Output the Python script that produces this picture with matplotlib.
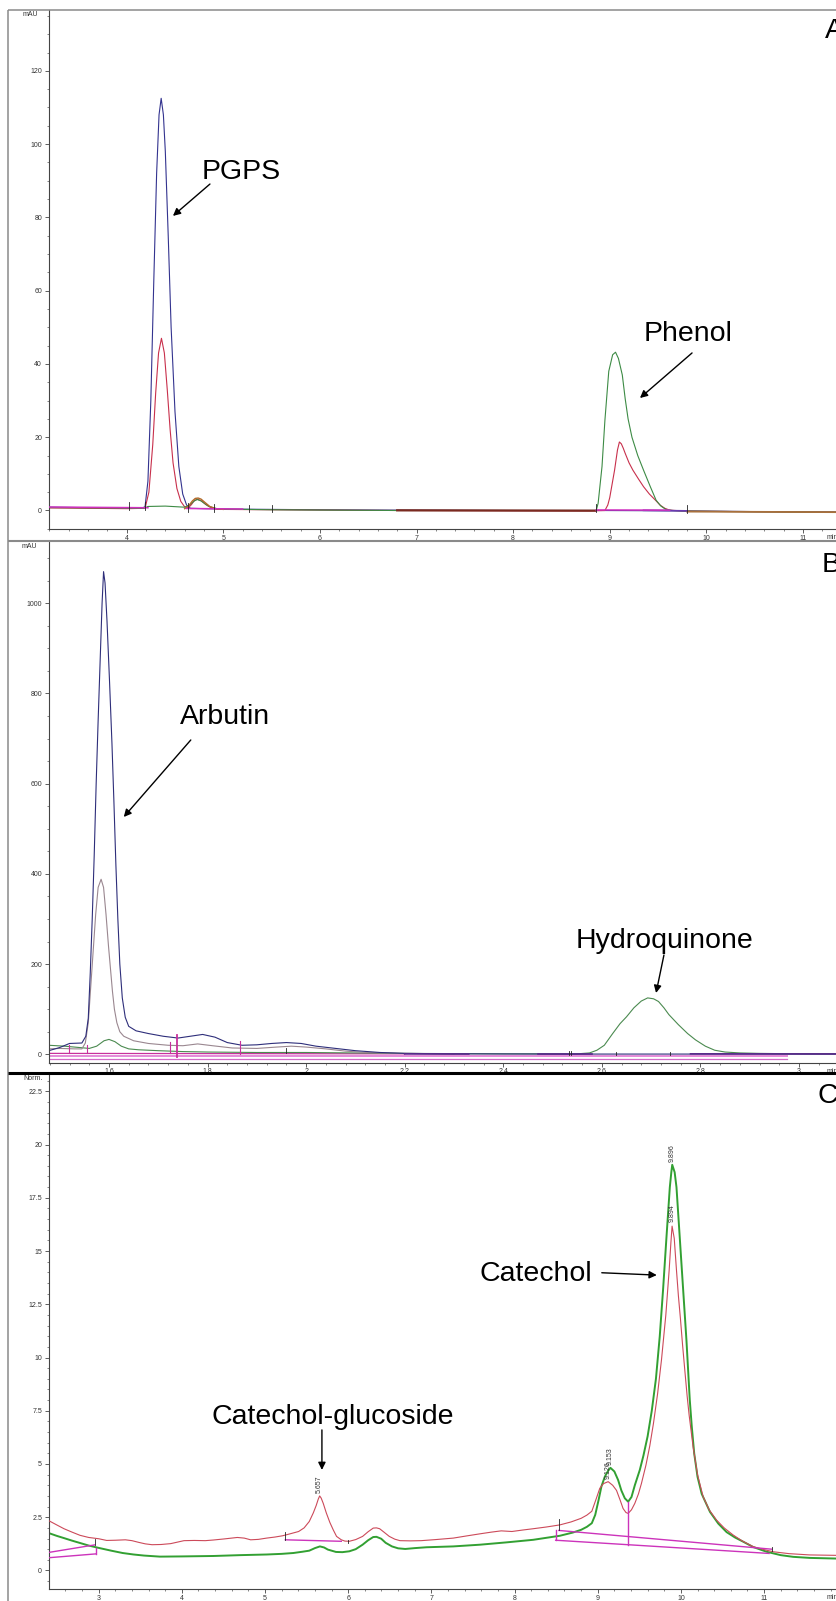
import matplotlib
matplotlib.use("Agg")
import matplotlib.pyplot as plt
from matplotlib.ticker import MultipleLocator, FuncFormatter, FixedLocator
from matplotlib.lines import Line2D

plt.rcParams['font.family'] = ['Liberation Sans', 'DejaVu Sans']

# ------------------------------------------------------------------ DATA
# ---- Panel A (mAU vs min)
A_blue = [(3.196, 0.9), (3.5, 0.8), (3.8, 0.7), (4.0, 0.6), (4.15, 0.6), (4.19, 1.0),
          (4.22, 8), (4.25, 30), (4.28, 62), (4.31, 92), (4.335, 108), (4.357, 112.5),
          (4.38, 108), (4.40, 98), (4.43, 75), (4.46, 50), (4.50, 27), (4.54, 12),
          (4.58, 4.5), (4.62, 1.5), (4.66, 0.6), (4.8, 0.5), (5.0, 0.4), (5.5, 0.3),
          (6.0, 0.2), (6.8, 0.1), (8.0, 0.0), (8.85, 0.0), (9.8, -0.1), (10.5, -0.3),
          (11.342, -0.4)]
A_red = [(3.196, 0.7), (3.6, 0.6), (4.0, 0.5), (4.19, 0.6), (4.23, 5), (4.27, 18),
         (4.30, 32), (4.33, 43), (4.36, 47), (4.39, 43), (4.42, 33), (4.45, 22),
         (4.48, 13), (4.52, 6), (4.56, 2.5), (4.60, 1.0), (4.64, 0.8), (4.67, 1.6),
         (4.70, 2.7), (4.73, 3.1), (4.77, 2.7), (4.82, 1.6), (4.88, 0.7), (4.95, 0.3),
         (5.5, 0.2), (6.8, 0.0), (8.8, -0.1), (8.95, 0.0), (8.98, 1.5), (9.00, 3.5),
         (9.02, 6.5), (9.05, 11), (9.08, 16.5), (9.10, 18.7), (9.12, 18.2), (9.14, 17.0),
         (9.16, 15.6), (9.20, 13.0), (9.24, 11.0), (9.30, 8.5), (9.35, 6.5), (9.41, 4.5),
         (9.47, 2.9), (9.52, 1.5), (9.57, 0.6), (9.62, 0.1), (9.8, -0.2), (11.342, -0.5)]
A_green = [(3.196, 0.8), (3.8, 0.7), (4.18, 0.6), (4.22, 1.1), (4.4, 1.2), (4.6, 0.9),
           (4.65, 1.5), (4.70, 2.6), (4.73, 3.0), (4.77, 2.6), (4.85, 1.1), (4.95, 0.4),
           (5.5, 0.2), (6.8, 0.0), (8.86, 0.0), (8.88, 2), (8.92, 12), (8.95, 24.6),
           (8.99, 38), (9.03, 42.5), (9.06, 43.2), (9.09, 41.5), (9.13, 37), (9.16, 30.5),
           (9.19, 25), (9.23, 20), (9.29, 15), (9.35, 11), (9.42, 6.5), (9.48, 2.8),
           (9.53, 1.2), (9.58, 0.3), (9.65, 0.0), (9.8, -0.2), (11.342, -0.5)]
A_brown = [(4.60, 0.5), (4.64, 1.2), (4.68, 2.6), (4.71, 3.3), (4.74, 3.4), (4.77, 3.1),
           (4.81, 2.2), (4.86, 1.1), (4.92, 0.5), (5.0, 0.3)]
A_base_dark = [(6.8, 0.05), (8.85, -0.05)]
A_base_tan = [(9.8, -0.3), (11.342, -0.45)]
A_base_violet = [(9.35, 0.05), (9.8, -0.1)]
A_mag_segments = [[(3.196, 0.95), (4.22, 0.75)], [(4.62, 0.55), (5.2, 0.4)],
                  [(8.86, 0.15), (9.62, 0.1)]]
A_event_ticks = [(4.02, 0.0, 2.2), (4.19, 0.0, 2.2), (4.63, -0.3, 2.0), (4.90, -0.3, 1.8),
                 (5.27, -0.5, 1.6), (5.50, -0.5, 1.4), (8.86, -0.5, 1.8), (9.80, -0.8, 1.4)]
A_xticks = [4, 5, 6, 7, 8, 9, 10, 11]
A_yticks = [0, 20, 40, 60, 80, 100, 120]

# ---- Panel B (mAU vs min)
B_blue = [(1.478, 8), (1.50, 15), (1.52, 24), (1.545, 25), (1.553, 40), (1.558, 80),
          (1.562, 180), (1.566, 300), (1.570, 440), (1.574, 600), (1.578, 740),
          (1.582, 870), (1.586, 1000), (1.589, 1070), (1.592, 1045), (1.596, 960),
          (1.601, 830), (1.606, 690), (1.610, 560), (1.614, 420), (1.618, 300),
          (1.622, 200), (1.627, 125), (1.633, 82), (1.640, 62), (1.655, 52), (1.68, 46),
          (1.71, 40), (1.74, 36), (1.765, 40), (1.79, 44), (1.815, 38), (1.84, 26),
          (1.87, 20), (1.90, 21), (1.93, 24), (1.96, 26), (1.99, 24), (2.02, 18),
          (2.06, 13), (2.10, 8), (2.15, 4), (2.20, 2), (2.3, 1), (2.5, 0.5), (2.7, 0.5),
          (2.9, 0.5), (3.075, 0.5)]
B_gray = [(1.478, 12), (1.50, 13), (1.53, 12), (1.545, 12), (1.552, 25), (1.558, 70),
          (1.563, 150), (1.568, 230), (1.573, 310), (1.578, 370), (1.584, 388),
          (1.589, 370), (1.594, 310), (1.599, 240), (1.603, 190), (1.607, 140),
          (1.611, 100), (1.616, 70), (1.622, 50), (1.63, 40), (1.65, 30), (1.68, 24),
          (1.72, 20), (1.75, 19), (1.78, 23), (1.81, 19), (1.85, 14), (1.90, 13),
          (1.94, 16), (1.97, 18), (2.00, 16), (2.04, 12), (2.08, 7), (2.12, 4),
          (2.2, 2), (2.3, 1)]
B_green = [(1.478, 20), (1.51, 18), (1.54, 15), (1.56, 13), (1.575, 18), (1.59, 30),
           (1.60, 33), (1.612, 28), (1.625, 18), (1.64, 12), (1.66, 10), (1.70, 8),
           (1.75, 6), (1.8, 5), (1.9, 4), (2.0, 4), (2.1, 3), (2.2, 2), (2.4, 1),
           (2.55, 1), (2.575, 3), (2.59, 9), (2.605, 20), (2.622, 46), (2.637, 68),
           (2.65, 83), (2.665, 103), (2.68, 118), (2.693, 125), (2.705, 123),
           (2.715, 117), (2.726, 103), (2.736, 88), (2.755, 66), (2.774, 46),
           (2.79, 32), (2.81, 18), (2.829, 9), (2.85, 5), (2.88, 3), (2.92, 2),
           (2.96, 1.5), (3.075, 1)]
B_mag_top = [(1.478, 2), (2.20, 1)]
B_pink_1 = [(1.478, -4), (2.975, -4)]
B_pink_2 = [(1.478, -10), (2.975, -10)]
B_purple_segments = [[(2.20, 0.8), (2.33, 0.6)], [(2.47, 0.5), (2.58, 0.5)],
                     [(2.78, 1.0), (3.075, 0.8)]]
B_mag_ticks = [(1.519, 2, 20), (1.555, 2, 20), (1.723, 2, 28), (1.866, 0, 30)]
B_mag_tick_tall = [(1.739, -5, 42)]
B_black_ticks = [(1.96, 3, 14), (2.534, -2, 8), (2.538, -2, 8), (2.628, -2, 6),
                 (2.738, -2, 6)]
B_xticks = [1.6, 1.8, 2.0, 2.2, 2.4, 2.6, 2.8, 3.0]
B_yticks = [0, 200, 400, 600, 800, 1000]

# ---- Panel C (Norm. vs min)
C_red = [(2.404, 2.33), (2.5, 2.13), (2.583, 1.96), (2.68, 1.8), (2.776, 1.65),
         (2.88, 1.55), (3.0, 1.49), (3.096, 1.41), (3.2, 1.42), (3.321, 1.44),
         (3.40, 1.40), (3.481, 1.32), (3.56, 1.25), (3.641, 1.21), (3.75, 1.22),
         (3.865, 1.26), (4.026, 1.40), (4.15, 1.41), (4.282, 1.40), (4.378, 1.43),
         (4.506, 1.48), (4.667, 1.55), (4.75, 1.52), (4.827, 1.44), (4.92, 1.46),
         (5.019, 1.52), (5.12, 1.57), (5.212, 1.63), (5.30, 1.72), (5.404, 1.83),
         (5.47, 2.0), (5.532, 2.3), (5.58, 2.7), (5.615, 3.05), (5.64, 3.35),
         (5.657, 3.5), (5.675, 3.4), (5.70, 3.15), (5.737, 2.7), (5.78, 2.25),
         (5.821, 1.9), (5.86, 1.6), (5.917, 1.44), (5.96, 1.38), (6.013, 1.37),
         (6.09, 1.45), (6.173, 1.60), (6.24, 1.82), (6.301, 1.99), (6.34, 2.0),
         (6.378, 1.96), (6.43, 1.8), (6.494, 1.60), (6.56, 1.47), (6.622, 1.40),
         (6.75, 1.39), (6.878, 1.40), (7.05, 1.45), (7.263, 1.52), (7.42, 1.62),
         (7.583, 1.72), (7.72, 1.80), (7.84, 1.86), (7.968, 1.83), (8.1, 1.90),
         (8.224, 1.96), (8.38, 2.04), (8.545, 2.14), (8.68, 2.28), (8.801, 2.45),
         (8.87, 2.6), (8.929, 2.78), (8.985, 3.4), (9.025, 3.86), (9.07, 4.08),
         (9.126, 4.17), (9.18, 4.0), (9.226, 3.76), (9.27, 3.3), (9.305, 2.91),
         (9.34, 2.72), (9.366, 2.68), (9.406, 2.85), (9.446, 3.15), (9.49, 3.6),
         (9.526, 4.09), (9.58, 4.95), (9.626, 5.85), (9.67, 6.9), (9.72, 8.3),
         (9.767, 9.9), (9.819, 12.0), (9.859, 14.1), (9.88, 15.4), (9.894, 16.17),
         (9.92, 15.6), (9.947, 14.1), (9.97, 12.9), (9.995, 11.8), (10.02, 10.6),
         (10.047, 9.41), (10.075, 8.2), (10.099, 7.3), (10.147, 5.8), (10.2, 4.5),
         (10.267, 3.47), (10.34, 2.85), (10.428, 2.37), (10.52, 2.0), (10.627, 1.67),
         (10.74, 1.38), (10.868, 1.12), (11.0, 0.98), (11.108, 0.88), (11.3, 0.79),
         (11.549, 0.73), (11.865, 0.71)]
C_green = [(2.404, 1.75), (2.5, 1.62), (2.583, 1.52), (2.68, 1.40), (2.776, 1.29),
           (2.88, 1.17), (3.0, 1.06), (3.15, 0.93), (3.288, 0.82), (3.42, 0.75),
           (3.545, 0.70), (3.737, 0.65), (4.0, 0.66), (4.378, 0.68), (4.7, 0.72),
           (5.019, 0.75), (5.2, 0.78), (5.34, 0.82), (5.45, 0.88), (5.532, 0.93),
           (5.60, 1.05), (5.66, 1.13), (5.71, 1.08), (5.756, 0.98), (5.853, 0.87),
           (5.93, 0.86), (6.013, 0.90), (6.09, 1.0), (6.173, 1.21), (6.24, 1.42),
           (6.301, 1.57), (6.34, 1.58), (6.397, 1.49), (6.45, 1.3), (6.526, 1.13),
           (6.6, 1.04), (6.686, 1.01), (6.80, 1.05), (6.942, 1.09), (7.263, 1.13),
           (7.583, 1.21), (7.904, 1.32), (8.224, 1.44), (8.545, 1.63), (8.70, 1.78),
           (8.801, 1.91), (8.87, 2.05), (8.929, 2.22), (8.97, 2.61), (9.01, 3.3),
           (9.045, 3.95), (9.085, 4.4), (9.125, 4.68), (9.153, 4.82), (9.20, 4.65),
           (9.245, 4.25), (9.285, 3.75), (9.326, 3.39), (9.366, 3.23), (9.406, 3.45),
           (9.446, 4.0), (9.506, 4.72), (9.55, 5.4), (9.60, 6.3), (9.65, 7.5),
           (9.70, 9.0), (9.746, 11.0), (9.786, 13.2), (9.827, 15.67), (9.867, 18.0),
           (9.885, 18.7), (9.896, 19.05), (9.925, 18.7), (9.947, 18.0), (9.967, 16.8),
           (9.987, 15.6), (10.007, 14.4), (10.027, 13.2), (10.047, 12.0),
           (10.067, 10.8), (10.087, 9.4), (10.107, 8.0), (10.13, 6.8), (10.16, 5.5),
           (10.2, 4.4), (10.25, 3.6), (10.35, 2.75), (10.45, 2.2), (10.55, 1.8),
           (10.65, 1.55), (10.75, 1.35), (10.87, 1.1), (11.03, 0.88), (11.2, 0.72),
           (11.35, 0.64), (11.55, 0.59), (11.865, 0.56)]
C_mag_segments = [[(2.404, 0.85), (2.95, 1.2)], [(2.404, 0.6), (2.97, 0.78)],
                  [(2.97, 0.78), (2.97, 1.05)], [(5.244, 1.44), (5.917, 1.37)],
                  [(8.532, 1.88), (11.09, 1.0)], [(8.494, 1.42), (11.06, 0.8)],
                  [(8.494, 1.42), (8.494, 1.88)], [(9.366, 1.2), (9.366, 3.23)]]
C_black_ticks = [(2.95, 1.2, 1.5), (5.244, 1.44, 1.8), (5.994, 1.28, 1.45),
                 (8.532, 1.88, 2.4), (11.09, 0.9, 1.1)]
C_peak_labels = ["5.657", "9.126", "9.153", "9.894", "9.896"]
C_peak_label_x = [5.657, 9.126, 9.153, 9.894, 9.896]
C_peak_label_v = [3.62, 4.30, 4.95, 16.35, 19.20]
C_xticks = [3, 4, 5, 6, 7, 8, 9, 10, 11]
C_yticks = [0, 2.5, 5, 7.5, 10, 12.5, 15, 17.5, 20, 22.5]

# ------------------------------------------------------------------ LAYOUT
W, H = 836, 1601
fig = plt.figure(figsize=(W / 100, H / 100), dpi=100)
fig.patch.set_facecolor('white')

LEFT = 49


def add_panel(top_px, bottom_px, xlim, ylim):
    ax = fig.add_axes([LEFT / W, 1 - bottom_px / H, (W - LEFT) / W,
                       (bottom_px - top_px) / H])
    ax.set_xlim(*xlim)
    ax.set_ylim(*ylim)
    for s in ('top', 'right'):
        ax.spines[s].set_visible(False)
    for s in ('left', 'bottom'):
        ax.spines[s].set_color('#444444')
        ax.spines[s].set_linewidth(0.8)
    ax.set_facecolor('none')
    ax.tick_params(which='major', direction='out', length=2.8, width=0.6,
                   color='#444444', labelsize=5, labelcolor='#333333')
    ax.tick_params(axis='x', which='major', pad=1.2)
    ax.tick_params(axis='y', which='major', pad=2.2)
    ax.tick_params(which='minor', direction='out', length=1.5, width=0.5,
                   color='#555555')
    ax.xaxis.set_major_formatter(FuncFormatter(lambda v, p: f"{v:g}"))
    ax.yaxis.set_major_formatter(FuncFormatter(lambda v, p: f"{v:g}"))
    return ax


def fig_line(x0, y0, x1, y1, color, lw):
    fig.add_artist(Line2D([x0 / W, x1 / W], [1 - y0 / H, 1 - y1 / H],
                          transform=fig.transFigure, color=color, lw=lw,
                          solid_capstyle='butt'))


def trace(ax, pts, color, lw=0.8, z=2):
    t, v = zip(*pts)
    ax.plot(t, v, color=color, lw=lw, zorder=z)


def vticks(ax, ticks, color, lw=0.7):
    for x, v0, v1 in ticks:
        ax.plot([x, x], [v0, v1], color=color, lw=lw, zorder=4)


def big(ax, x, v, s, ha='center'):
    ax.text(x, v, s, fontsize=20.5, ha=ha, va='baseline', color='black',
            zorder=6, clip_on=False)


def arrow(ax, x0, v0, x1, v1):
    ax.annotate('', xy=(x1, v1), xytext=(x0, v0),
                arrowprops=dict(arrowstyle='-|>', color='black', lw=1.0,
                                mutation_scale=11, shrinkA=0, shrinkB=0),
                zorder=6)


def min_label(ax, x):
    ax.annotate('min', xy=(x, 0), xycoords=('data', 'axes fraction'),
                xytext=(0, -6.2), textcoords='offset points', fontsize=5,
                ha='left', va='center', color='#333333', annotation_clip=False)


# ---- frame
fig_line(8, 10, 8, H, '#8a8a8a', 1.1)
fig_line(8, 10, W, 10, '#8a8a8a', 1.1)
fig_line(8, 541, W, 541, '#8a8a8a', 1.5)
fig_line(8, 1073, W, 1073, 'black', 2.2)

# ---- Panel A
axA = add_panel(10, 529, (3.196, 11.342), (-5.05, 136.6))
axA.xaxis.set_major_locator(FixedLocator(A_xticks))
axA.yaxis.set_major_locator(FixedLocator(A_yticks))
axA.xaxis.set_minor_locator(MultipleLocator(0.2))
axA.yaxis.set_minor_locator(MultipleLocator(5))
trace(axA, A_blue, '#33338f')
trace(axA, A_red, '#c8304c')
trace(axA, A_green, '#3d8b45')
trace(axA, A_brown, '#b06a28', lw=1.0)
trace(axA, A_base_dark, '#7a2a20', lw=1.6, z=3)
trace(axA, A_base_tan, '#a8703c', lw=1.3, z=3)
trace(axA, A_base_violet, '#6a3ab0', lw=1.2, z=3)
for seg in A_mag_segments:
    trace(axA, seg, '#d030c0', lw=1.1, z=3)
vticks(axA, A_event_ticks, '#222222', lw=0.6)
big(axA, 5.183, 90.45, "PGPS")
arrow(axA, 4.862, 89.1, 4.479, 80.4)
big(axA, 9.811, 46.25, "Phenol")
arrow(axA, 9.852, 43.0, 9.313, 30.7)
big(axA, 11.225, 128.9, "A", ha='left')
min_label(axA, 11.249)
fig.text(30 / W, 1 - 14 / H, 'mAU', fontsize=5, ha='center', va='center',
         color='#333333')

# ---- Panel B
axB = add_panel(541, 1062.5, (1.4783, 3.0751), (-18.2, 1137.9))
axB.xaxis.set_major_locator(FixedLocator(B_xticks))
axB.yaxis.set_major_locator(FixedLocator(B_yticks))
axB.xaxis.set_minor_locator(MultipleLocator(0.04))
axB.yaxis.set_minor_locator(MultipleLocator(50))
trace(axB, B_pink_1, '#e48ad8', lw=1.4, z=1)
trace(axB, B_pink_2, '#d26ac8', lw=0.9, z=1)
trace(axB, B_mag_top, '#c8309c', lw=0.9, z=1)
trace(axB, B_green, '#4b8a50')
trace(axB, B_gray, '#9a8790')
trace(axB, B_blue, '#2e2e7a')
for seg in B_purple_segments:
    trace(axB, seg, '#5a2a8a', lw=1.2, z=3)
vticks(axB, B_mag_ticks, '#c8309c', lw=0.8)
vticks(axB, B_mag_tick_tall, '#c8309c', lw=1.3)
vticks(axB, B_black_ticks, '#222222', lw=0.6)
big(axB, 1.835, 733, "Arbutin")
arrow(axB, 1.766, 696.8, 1.630, 526.1)
big(axB, 2.728, 236.7, "Hydroquinone")
arrow(axB, 2.726, 220.1, 2.710, 135.9)
big(axB, 3.0466, 1069, "B", ha='left')
min_label(axB, 3.0567)
fig.text(29 / W, 1 - 546 / H, 'mAU', fontsize=5, ha='center', va='center',
         color='#333333')

# ---- Panel C
axC = add_panel(1073, 1589, (2.4026, 11.865), (-0.87, 23.36))
axC.xaxis.set_major_locator(FixedLocator(C_xticks))
axC.yaxis.set_major_locator(FixedLocator(C_yticks))
axC.xaxis.set_minor_locator(MultipleLocator(0.2))
axC.yaxis.set_minor_locator(MultipleLocator(0.5))
trace(axC, C_green, '#32a032', lw=1.4)
trace(axC, C_red, '#cc4a5a', lw=0.8, z=3)
for seg in C_mag_segments:
    trace(axC, seg, '#cc33bb', lw=1.0, z=4)
vticks(axC, C_black_ticks, '#222222', lw=0.6)
for s, x, v in zip(C_peak_labels, C_peak_label_x, C_peak_label_v):
    axC.text(x, v, s, rotation=90, fontsize=5, ha='center', va='bottom',
             color='#333333', zorder=5)
big(axC, 5.816, 6.9, "Catechol-glucoside")
arrow(axC, 5.684, 6.6, 5.684, 4.72)
big(axC, 8.929, 13.6, "Catechol", ha='right')
arrow(axC, 9.049, 13.98, 9.710, 13.87)
big(axC, 11.643, 21.95, "C", ha='left')
min_label(axC, 11.754)
fig.text(33 / W, 1 - 1078 / H, 'Norm.', fontsize=5, ha='center', va='center',
         color='#333333')

fig.savefig('out.png', dpi=100, facecolor='white')
